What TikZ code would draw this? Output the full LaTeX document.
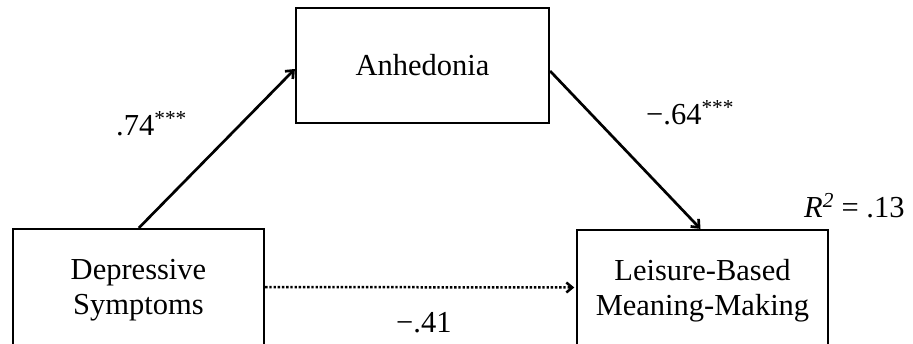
\documentclass[tikz,border=0pt]{standalone}
\usepackage{fontspec}
\setmainfont{Liberation Serif}
\usetikzlibrary{arrows.meta,calc}
\tikzset{
  varbox/.style={draw=black, line width=2.2pt, rectangle, inner sep=0pt, align=center,
    font=\fontsize{30.5}{35}\selectfont},
  path/.style={line width=2.7pt, -{Straight Barb[length=6.5pt,width=11pt,line width=2.7pt]}},
  dpath/.style={line width=2.5pt, dash pattern=on 2.4pt off 1.8pt, -{Straight Barb[length=6pt,width=10pt,line width=2.5pt,sep]}},
  coef/.style={inner sep=0pt, anchor=base west, font=\fontsize{30.5}{35}\selectfont}
}
\begin{document}
\begin{tikzpicture}[x=1pt,y=1pt]
\clip (0,0) rectangle (913,-343);
\fill[white] (0,0) rectangle (913,-343);
\node[varbox, minimum width=251pt, minimum height=123pt] (dep) at (138.5,-290.5) {Depressive\\Symptoms};
\node[varbox, minimum width=253pt, minimum height=115pt] (anh) at (422.5,-65.5) {Anhedonia};
\node[varbox, minimum width=251pt, minimum height=122pt] (leis) at (702.5,-291) {Leisure-Based\\Meaning-Making};
\draw[path] ($(dep.north west)+(127,0)$) -- ($(anh.west)+(0,-3.5)$);
\draw[path] ($(anh.east)+(0,-5.5)$) -- ($(leis.north)+(-2,0)$);
\draw[dpath] ($(dep.east)+(0,3.5)$) -- ($(leis.west)+(0,3.5)$);
\node[coef] (a) at (116,-135) {.74\textsuperscript{***}};
\node[coef] (b) at (646,-124) {−.64\textsuperscript{***}};
\node[coef] (c) at (396,-332) {−.41};
\node[coef] (r) at (804,-217) {\textit{R}\textsuperscript{\textit{2}} = .13};
\end{tikzpicture}
\end{document}
